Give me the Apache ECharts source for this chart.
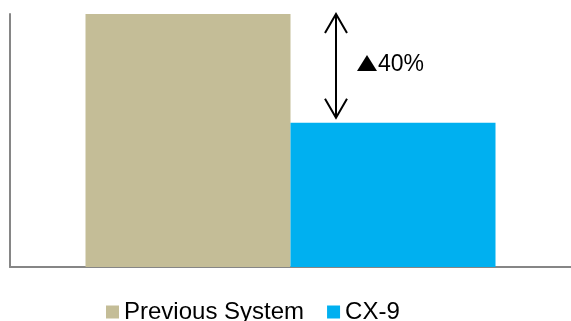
<!DOCTYPE html>
<html>
<head>
<meta charset="UTF-8">
<title>Previous System vs CX-9</title>
<script src="https://cdn.jsdelivr.net/npm/echarts@6/dist/echarts.min.js"></script>
<style>
  html, body { margin: 0; padding: 0; background: #fff; }
  #main { width: 571px; height: 321px; }
</style>
</head>
<body>
<div id="main"></div>
<script>
// data
var categories = ['Comparison'];
var seriesNames = ['Previous System', 'CX-9'];
var previousValues = [100];
var cx9Values = [57];
var changeText = '40%';

var myChart = echarts.init(document.getElementById('main'));

var option = {
    animation: false,
    grid: { left: 10, right: 0, top: 14, bottom: 54 },
    legend: {
        data: seriesNames,
        left: 106,
        top: 300,
        padding: 0,
        icon: 'rect',
        itemWidth: 13,
        itemHeight: 13,
        itemGap: 23,
        textStyle: { fontFamily: 'Arial, "Liberation Sans"', fontSize: 24, color: '#000' }
    },
    xAxis: {
        type: 'category',
        data: categories,
        axisLine: { lineStyle: { color: '#868686', width: 2 } },
        axisTick: { show: false },
        axisLabel: { show: false }
    },
    yAxis: {
        type: 'value',
        min: 0,
        max: 100,
        axisLine: { show: true, lineStyle: { color: '#868686', width: 2 } },
        axisTick: { show: false },
        axisLabel: { show: false },
        splitLine: { show: false }
    },
    series: [
        {
            name: seriesNames[0],
            type: 'bar',
            data: previousValues,
            barWidth: 205,
            barGap: '0%',
            itemStyle: { color: '#C4BD97' }
        },
        {
            name: seriesNames[1],
            type: 'bar',
            data: cx9Values,
            barWidth: 205,
            itemStyle: { color: '#00B0F0' }
        }
    ]
};
myChart.setOption(option);

// double arrow between the two bar tops
var topY = myChart.convertToPixel({ yAxisIndex: 0 }, previousValues[0]);
var botY = myChart.convertToPixel({ yAxisIndex: 0 }, cx9Values[0]) - 5;
var ax = 336;
myChart.setOption({
    graphic: [
        { type: 'line', shape: { x1: ax, y1: topY, x2: ax, y2: botY }, style: { stroke: '#000', lineWidth: 2 } },
        { type: 'polyline', shape: { points: [[ax - 11, topY + 19], [ax, topY], [ax + 11, topY + 19]] }, style: { stroke: '#000', lineWidth: 2, fill: null } },
        { type: 'polyline', shape: { points: [[ax - 11, botY - 19], [ax, botY], [ax + 11, botY - 19]] }, style: { stroke: '#000', lineWidth: 2, fill: null } },
        // up triangle drawn as a shape so it matches the reference glyph size
        { type: 'polygon', shape: { points: [[357, 71], [367, 55], [377, 71]] }, style: { fill: '#000' } },
        { type: 'text', x: 378, y: 65, style: { text: changeText, fontFamily: 'Arial, "Liberation Sans"', fontSize: 23, fill: '#000', verticalAlign: 'middle' } }
    ]
});
</script>
</body>
</html>
